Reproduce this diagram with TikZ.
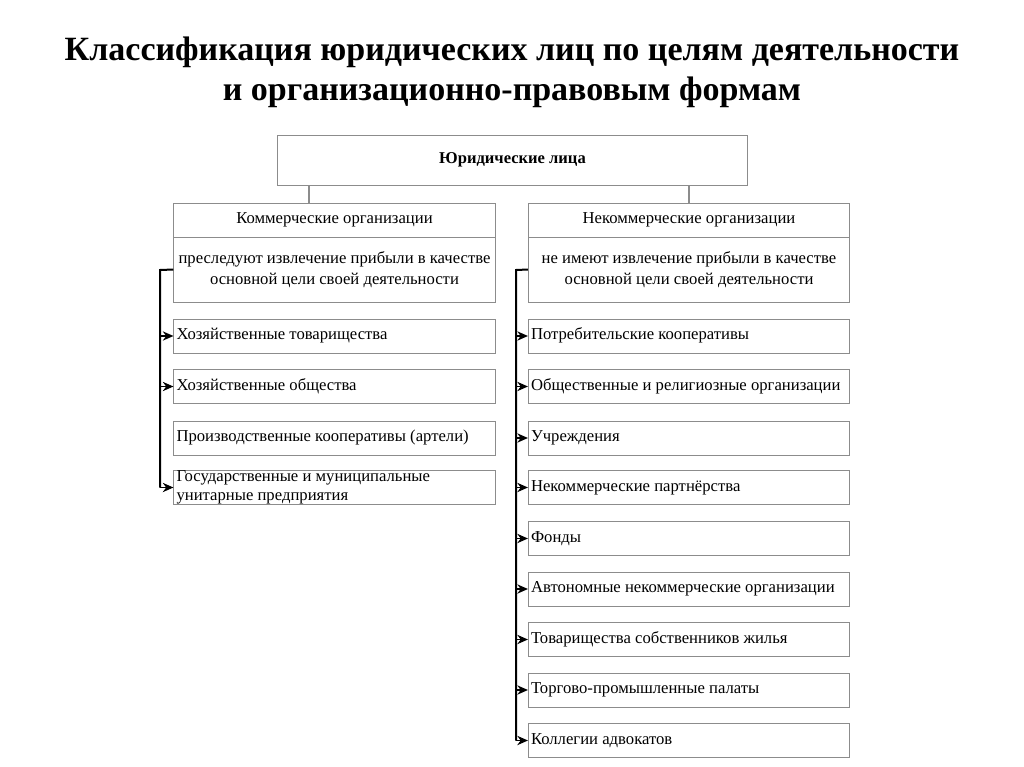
\documentclass[tikz,border=0pt]{standalone}
\usepackage{fontspec}
\setmainfont{Liberation Serif}
\usepackage{tikz}
\usetikzlibrary{arrows,arrows.meta,positioning}
\definecolor{jlgray}{RGB}{140,140,140}
\tikzstyle{arrow} = [line width=1pt,-{Stealth[length=8pt,width=7pt]},color=black]
\tikzstyle{bus} = [line width=1.5pt,color=black]
\tikzstyle{link} = [line width=0.8pt,color=jlgray]
\tikzstyle{item} = [draw=jlgray, line width=0.6pt, text width=237pt, inner xsep=2pt, inner ysep=0pt, minimum height=25.5pt, align=flush left, font=\fontsize{12.5}{14.25}\selectfont]
\tikzstyle{head} = [draw=jlgray, line width=0.6pt, minimum width=241pt, minimum height=25.5pt, inner sep=0pt, align=flush center, font=\fontsize{12.5}{15}\selectfont]

\begin{document}
\begin{tikzpicture}[x=0.75pt, y=0.75pt]
\useasboundingbox (0,0) rectangle (1024,-767);

% Title
\node[align=center, font=\fontsize{25.5}{30}\selectfont\bfseries] (title) at (512,-72)
  {Классификация юридических лиц по целям деятельности\\и организационно-правовым формам};

% Root
\node[draw=jlgray, line width=0.6pt, minimum width=353pt, minimum height=37.5pt, inner sep=0pt,
  font=\fontsize{12.4}{14}\selectfont\bfseries] (root) at (512.5,-160) {Юридические лица};

% Commercial
\node[head] (ktitle) at (334.5,-220) {Коммерческие организации};
\node[head, minimum height=48.75pt, font=\fontsize{12.5}{15.75}\selectfont] (kbody) at (334.5,-269.5)
  {преследуют извлечение прибыли в качестве\\основной цели своей деятельности};

% Non-commercial
\node[head] (ntitle) at (689,-220) {Некоммерческие организации};
\node[head, minimum height=48.75pt, font=\fontsize{12.5}{15.75}\selectfont] (nbody) at (689,-269.5)
  {не имеют извлечение прибыли в качестве\\основной цели своей деятельности};

% Commercial forms
\node[item] (k1) at (334.5,-336) {Хозяйственные товарищества\strut};
\node[item] (k2) at (334.5,-386.5) {Хозяйственные общества\strut};
\node[item] (k3) at (334.5,-438) {Производственные кооперативы (артели)\strut};
\node[item, inner ysep=-1pt] (k4) at (334.5,-487.5) {Государственные и муниципальные\\унитарные предприятия};

% Non-commercial forms
\node[item] (n1) at (689,-336) {Потребительские кооперативы\strut};
\node[item] (n2) at (689,-386.5) {Общественные и религиозные организации\strut};
\node[item] (n3) at (689,-438) {Учреждения\strut};
\node[item] (n4) at (689,-487.5) {Некоммерческие партнёрства\strut};
\node[item] (n5) at (689,-538.5) {Фонды\strut};
\node[item] (n6) at (689,-589) {Автономные некоммерческие организации\strut};
\node[item] (n7) at (689,-639.5) {Товарищества собственников жилья\strut};
\node[item] (n8) at (689,-690) {Торгово-промышленные палаты\strut};
\node[item] (n9) at (689,-740.5) {Коллегии адвокатов\strut};

% Links from root
\coordinate (jl) at (309,-185);
\coordinate (jr) at (689,-185);
\draw[link] (jl) -- (jl |- ktitle.north);
\draw[link] (jr) -- (jr |- ntitle.north);

% Buses
\coordinate (lb) at (160,-270);
\coordinate (rb) at (516,-270);
\draw[bus] (kbody.west) -- (lb) -- (lb |- k4.west);
\draw[bus] (nbody.west) -- (rb) -- (rb |- n9.west);

% Arrows
\draw[arrow] (lb |- k1.west) -- (k1.west);
\draw[arrow] (lb |- k2.west) -- (k2.west);
\draw[arrow] (lb |- k4.west) -- (k4.west);
\draw[arrow] (rb |- n1.west) -- (n1.west);
\draw[arrow] (rb |- n2.west) -- (n2.west);
\draw[arrow] (rb |- n3.west) -- (n3.west);
\draw[arrow] (rb |- n4.west) -- (n4.west);
\draw[arrow] (rb |- n5.west) -- (n5.west);
\draw[arrow] (rb |- n6.west) -- (n6.west);
\draw[arrow] (rb |- n7.west) -- (n7.west);
\draw[arrow] (rb |- n8.west) -- (n8.west);
\draw[arrow] (rb |- n9.west) -- (n9.west);
\end{tikzpicture}
\end{document}
